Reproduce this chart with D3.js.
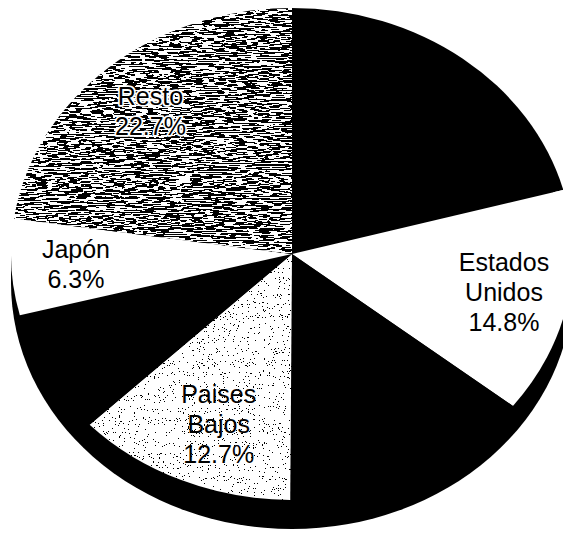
<!DOCTYPE html>
<html>
<head>
<meta charset="utf-8">
<script src="https://cdn.jsdelivr.net/npm/d3@7"></script>
<style>
  body { margin: 0; background: #fff; }
  svg { display: block; }
</style>
</head>
<body>
<svg id="pie"></svg>
<script>
// slices clockwise from 12 o'clock; the black slices carry no readable label
var sliceNames = ["", "Estados Unidos", "", "Paises Bajos", "", "Japón", "Resto"]
var sliceValues = [20.8, 14.8, 14.5, 12.7, 8.2, 6.3, 22.7]
var sliceKinds = ["black", "white", "black", "light", "black", "white", "dark"]

var dimensions = {
    width: 563,
    height: 537,
    cx: 292,
    cy: 254,
    rx: 281,
    ry: 246,
    depth: 29,
    labelRadius: 0.77,
    lineHeight: 30
}

var svg = d3.select("#pie")
    .attr("width", dimensions.width)
    .attr("height", dimensions.height)

var defs = svg.append("defs")

// grainy scanned fills
function grain(id, freq, table) {
    var f = defs.append("filter").attr("id", id)
        .attr("x", 0).attr("y", 0).attr("width", 1).attr("height", 1)
    f.append("feTurbulence").attr("type", "fractalNoise")
        .attr("baseFrequency", freq).attr("numOctaves", 2).attr("seed", 4)
        .attr("result", "noise")
    f.append("feColorMatrix").attr("in", "noise").attr("type", "saturate")
        .attr("values", 0).attr("result", "gray")
    var ct = f.append("feComponentTransfer").attr("in", "gray").attr("result", "bw")
    ct.append("feFuncR").attr("type", "discrete").attr("tableValues", table)
    ct.append("feFuncG").attr("type", "discrete").attr("tableValues", table)
    ct.append("feFuncB").attr("type", "discrete").attr("tableValues", table)
    ct.append("feFuncA").attr("type", "linear").attr("slope", 0).attr("intercept", 1)
    f.append("feComposite").attr("in", "bw").attr("in2", "SourceGraphic").attr("operator", "in")
}
grain("grainDark", "0.09 0.9", "0 0 0 0 0 0 0 0 0 0 1 1 1 1 1 1 1 1 1 1")
grain("grainLight", "0.8 0.8", "0 0 0 0 0 0 0 1 1 1 1 1 1 1 1 1 1 1 1 1")

var fillColor = d3.scaleOrdinal()
    .domain(["black", "white", "light", "dark"])
    .range(["#000", "#fff", "#c4c4c4", "#555"])
var fillFilter = { black: null, white: null, light: "url(#grainLight)", dark: "url(#grainDark)" }

var data = sliceValues.map((v, i) => ({ name: sliceNames[i], value: v, kind: sliceKinds[i] }))

var pie = d3.pie().sort(null).value(d => d.value)
var arcs = pie(data)

var arc = d3.arc().innerRadius(0).outerRadius(dimensions.rx)
var labelArc = d3.arc()
    .innerRadius(dimensions.rx * dimensions.labelRadius)
    .outerRadius(dimensions.rx * dimensions.labelRadius)

var squash = dimensions.ry / dimensions.rx

// black side of the tilted pie
var side = svg.append("g")
side.append("ellipse")
    .attr("cx", dimensions.cx)
    .attr("cy", dimensions.cy + dimensions.depth)
    .attr("rx", dimensions.rx)
    .attr("ry", dimensions.ry)
    .attr("fill", "#000")
side.append("rect")
    .attr("x", dimensions.cx - dimensions.rx)
    .attr("y", dimensions.cy)
    .attr("width", 2 * dimensions.rx)
    .attr("height", dimensions.depth)
    .attr("fill", "#000")

// top face
var face = svg.append("g")
    .attr("transform", `translate(${dimensions.cx},${dimensions.cy}) scale(1,${squash})`)

face.selectAll("path")
    .data(arcs)
    .enter()
    .append("path")
    .attr("d", arc)
    .attr("fill", d => fillColor(d.data.kind))
    .attr("filter", d => fillFilter[d.data.kind])

// labels
var labels = svg.append("g")
    .attr("font-family", "'Liberation Sans', Arial, sans-serif")
    .attr("font-size", 25)
    .attr("text-anchor", "middle")

labels.selectAll("text")
    .data(arcs.filter(d => d.data.name !== ""))
    .enter()
    .append("text")
    .each(function(d) {
        var c = labelArc.centroid(d)
        var x = dimensions.cx + c[0]
        var y = dimensions.cy + c[1] * squash
        // paises bajos label sits a bit right of its centroid
        if (d.data.kind === "light") { x += 12; y -= 4 }
        var lines = d.data.name.split(" ").concat([d3.format(".1f")(d.data.value) + "%"])
        var y0 = y - (lines.length - 1) * dimensions.lineHeight / 2 + 9
        var t = d3.select(this)
            .attr("fill", "#000")
        if (d.data.kind === "dark") {
            t.attr("stroke", "#fff").attr("stroke-width", 3.5)
                .attr("stroke-linejoin", "round").attr("paint-order", "stroke")
        }
        lines.forEach((s, i) => {
            t.append("tspan")
                .attr("x", x)
                .attr("y", y0 + i * dimensions.lineHeight)
                .text(s)
        })
    })
</script>
</body>
</html>
